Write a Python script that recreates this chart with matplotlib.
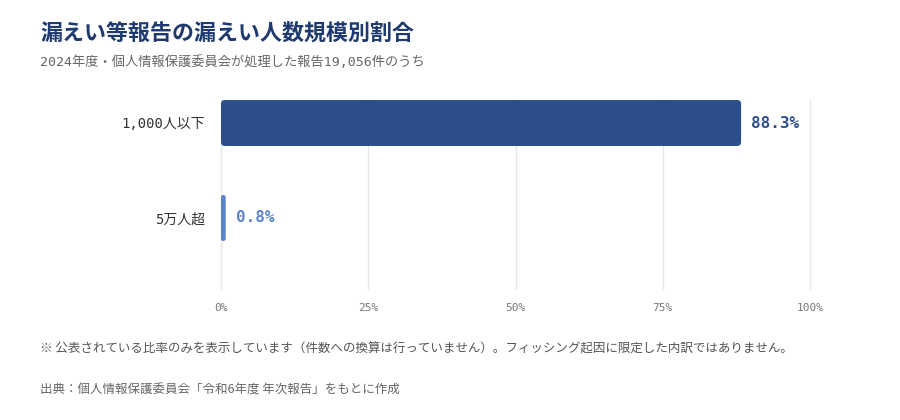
import matplotlib
matplotlib.use('Agg')
import matplotlib.pyplot as plt
from matplotlib.patches import FancyBboxPatch

plt.rcParams['font.family'] = ['Noto Sans CJK JP', 'DejaVu Sans']

categories = ['1,000人以下', '5万人超']
values = [88.3, 0.8]
bar_colors = ['#2c4f8c', '#5b84c9']
ticks = [0, 25, 50, 75, 100]
tick_labels = ['0%', '25%', '50%', '75%', '100%']

title = '漏えい等報告の漏えい人数規模別割合'
subtitle = '2024年度・個人情報保護委員会が処理した報告19,056件のうち'
note = '※ 公表されている比率のみを表示しています（件数への換算は行っていません）。フィッシング起因に限定した内訳ではありません。'
source = '出典：個人情報保護委員会「令和6年度 年次報告」をもとに作成'

mono = ['DejaVu Sans Mono', 'Noto Sans CJK JP']

fig = plt.figure(figsize=(9, 4.2), dpi=100)
ax = fig.add_axes([221 / 900, 1 - 289 / 420, 589 / 900, 189 / 420])

ax.set_xlim(0, 100)
ax.set_ylim(1 + 71 / 95, -23 / 95)

bar_h = 46 / 95
px_x = 100 / 589
px_y = 1 / 95
for i, (v, c) in enumerate(zip(values, bar_colors)):
    r = min(4 * px_x, v / 2)
    patch = FancyBboxPatch((0, i - bar_h / 2), v, bar_h,
                           boxstyle='round,pad=0,rounding_size=%f' % r,
                           mutation_aspect=px_y / px_x,
                           facecolor=c, edgecolor='none', zorder=3)
    ax.add_patch(patch)
    ax.text(v + 10 * px_x, i, '%.1f%%' % v, va='center', ha='left',
            fontsize=11.5, fontweight='bold', color=c, family=mono, zorder=4)

ax.set_yticks(range(len(categories)))
ax.set_yticklabels(categories, fontsize=10, color='#333333', family=mono)
ax.set_xticks(ticks)
ax.set_xticklabels(tick_labels, fontsize=8, color='#777777', family=mono)
ax.tick_params(axis='both', length=0)
ax.tick_params(axis='y', pad=11.5)
ax.tick_params(axis='x', pad=10)
ax.grid(axis='x', color='#e6e6ee', linewidth=1, zorder=0)
for line in ax.get_xgridlines():
    line.set_clip_on(False)
for s in ax.spines.values():
    s.set_visible(False)

fig.text(40 / 900, 1 - 33 / 420, title, fontsize=15.8, fontweight='bold',
         color='#1f3a6e', va='center', ha='left')
fig.text(40 / 900, 1 - 62 / 420, subtitle, fontsize=9.5, color='#666666',
         va='center', ha='left', family=mono)
fig.text(40 / 900, 1 - 349 / 420, note, fontsize=9, color='#555555',
         va='center', ha='left')
fig.text(40 / 900, 1 - 390 / 420, source, fontsize=9, color='#666666',
         va='center', ha='left')

fig.savefig('out.png', dpi=100)
